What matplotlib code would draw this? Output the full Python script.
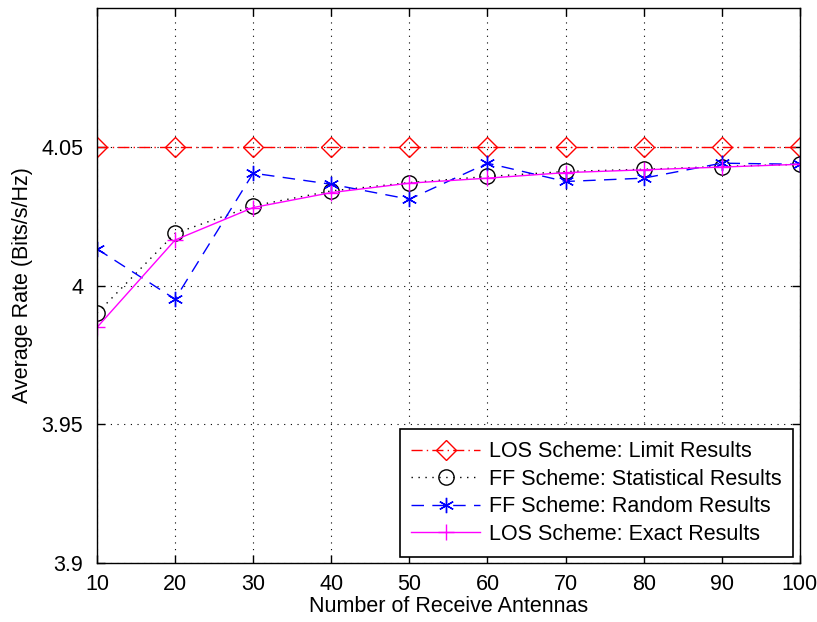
import matplotlib
matplotlib.use("Agg")
import matplotlib.pyplot as plt

plt.rcParams['font.family'] = ['Liberation Sans', 'DejaVu Sans']

antennas = [10, 20, 30, 40, 50, 60, 70, 80, 90, 100]
limit_results = [4.05, 4.05, 4.05, 4.05, 4.05, 4.05, 4.05, 4.05, 4.05, 4.05]
statistical_results = [3.990, 4.0188, 4.0287, 4.0341, 4.0371, 4.0393, 4.0411, 4.0419, 4.0429, 4.0437]
random_results = [4.0132, 3.9951, 4.0405, 4.0365, 4.0311, 4.0441, 4.0375, 4.0387, 4.0441, 4.0437]
exact_results = [3.9849, 4.0164, 4.0281, 4.0335, 4.0369, 4.0387, 4.0407, 4.0417, 4.0427, 4.0437]

labels = ["LOS Scheme: Limit Results", "FF Scheme: Statistical Results",
          "FF Scheme: Random Results", "LOS Scheme: Exact Results"]

fs = 15.5
fig = plt.figure(figsize=(8.17, 6.22), dpi=100)
ax = fig.add_axes([0.1187, 0.0949, 0.979 - 0.1187, 0.987 - 0.0949])

ax.plot(antennas, limit_results, color='red', linestyle=(0, (8, 3, 1, 3)), linewidth=1,
        marker='D', markersize=10, markerfacecolor='none', markeredgecolor='red',
        markeredgewidth=1, label=labels[0])
ax.plot(antennas, statistical_results, color='black', linestyle=(0, (1, 4)), linewidth=1,
        marker='o', markersize=11, markerfacecolor='none', markeredgecolor='black',
        markeredgewidth=1, label=labels[1])
ax.plot(antennas, random_results, color='blue', linestyle=(0, (9, 6)), linewidth=1,
        marker=(6, 2, 0), markersize=11, markeredgecolor='blue',
        markeredgewidth=1, label=labels[2])
ax.plot(antennas, exact_results, color='magenta', linestyle='-', linewidth=1,
        marker='+', markersize=11, markeredgecolor='magenta',
        markeredgewidth=1, label=labels[3])

ax.set_xlim(10, 100)
ax.set_ylim(3.9, 4.1)
ax.set_xticks(antennas)
ax.set_yticks([3.9, 3.95, 4.0, 4.05])
ax.set_yticklabels(['3.9', '3.95', '4', '4.05'])
ax.tick_params(direction='in', length=6, labelsize=fs, top=True, right=True, width=1)
ax.tick_params(axis='x', pad=8)
ax.tick_params(axis='y', pad=10)
ax.grid(True, color='black', linestyle=(0, (1, 5)), linewidth=0.8)
for s in ax.spines.values():
    s.set_linewidth(1)

ax.set_xlabel("Number of Receive Antennas", fontsize=fs, labelpad=1)
ax.set_ylabel("Average Rate (Bits/s/Hz)", fontsize=fs, labelpad=6)

leg = ax.legend(loc='lower right', fontsize=fs, fancybox=False, framealpha=1,
                edgecolor='black', handlelength=3.2, borderaxespad=0.3,
                labelspacing=0.3, handletextpad=0.4, borderpad=0.55)
leg.get_frame().set_linewidth(1.2)

fig.savefig("out.png", dpi=100)
